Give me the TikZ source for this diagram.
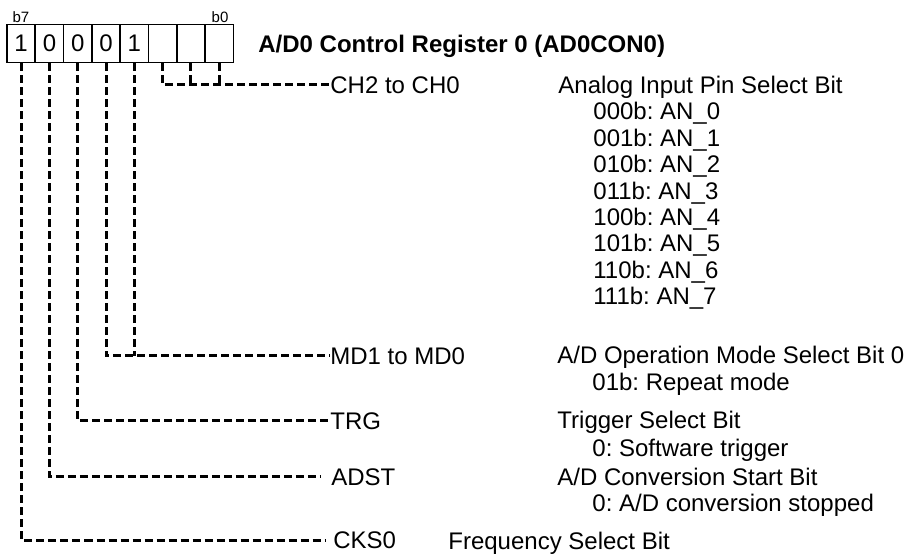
\documentclass[tikz,border=0pt]{standalone}
\usepackage{fontspec}
\setmainfont{Liberation Sans}
\frenchspacing

\begin{document}
\begin{tikzpicture}[x=0.5pt, y=-0.5pt,
    bitbox/.style={draw, line width=0.85pt, minimum width=14.15pt, minimum height=19pt, inner sep=0pt, font=\fontsize{12}{14}\selectfont},
    lbl/.style={anchor=west, inner sep=0pt, text height=8.6pt, text depth=0pt, font=\fontsize{12}{14}\selectfont},
    sel/.style={dash pattern=on 4pt off 2pt, line width=1.5pt}]
    \useasboundingbox (0,0) rectangle (905,555);

    % Register
    \foreach \n/\v in {7/1,6/0,5/0,4/0,3/1,2/{},1/{},0/{}}
        \node[bitbox] (bit\n) at ({21.15+28.3*(7-\n)}, 43.5) {\v};
    \node[font=\fontsize{7.5}{9}\selectfont] (lb7) at (21, 17) {b7};
    \node[font=\fontsize{7.5}{9}\selectfont] (lb0) at (220, 17) {b0};
    \node[lbl, font=\fontsize{12}{14}\selectfont\bfseries] (title) at (258, 44) {A/D0 Control Register 0 (AD0CON0)};

    % Field names
    \node[lbl] (ch) at (330, 85) {CH2 to CH0};
    \node[lbl] (md) at (330, 356) {MD1 to MD0};
    \node[lbl] (trg) at (330, 421) {TRG};
    \node[lbl] (adst) at (331, 477) {ADST};
    \node[lbl] (cks) at (333, 540) {CKS0};

    % Connectors
    \draw[sel] (bit2.south) |- (ch.west);
    \draw[sel] (bit1.south) -- (bit1.south |- ch.west);
    \draw[sel] (bit0.south) -- (bit0.south |- ch.west);
    \draw[sel] (bit4.south) |- (md.west);
    \draw[sel] (bit3.south) -- (bit3.south |- md.west);
    \draw[sel] (bit5.south) |- (trg.west);
    \draw[sel, shorten >=5.5pt] (bit6.south) |- (adst.west);
    \draw[sel, shorten >=4pt] (bit7.south) |- (cks.west);

    % Descriptions
    \node[lbl] (chd) at (558, 85) {Analog Input Pin Select Bit};
    \foreach \c/\k in {000/0,001/1,010/2,011/3,100/4,101/5,110/6,111/7}
        \node[lbl] (an\k) at (593, {111.4+26.4*\k}) {\c b: AN\_\k};

    \node[lbl] (mdd) at (557, 355) {A/D Operation Mode Select Bit 0};
    \node[lbl] (mdv) at (592, 382) {01b: Repeat mode};
    \node[lbl] (trgd) at (557, 420) {Trigger Select Bit};
    \node[lbl] (trgv) at (592, 448) {0: Software trigger};
    \node[lbl] (adstd) at (557, 477) {A/D Conversion Start Bit};
    \node[lbl] (adstv) at (592, 503) {0: A/D conversion stopped};
    \node[lbl] (cksd) at (448, 541) {Frequency Select Bit};
\end{tikzpicture}
\end{document}
